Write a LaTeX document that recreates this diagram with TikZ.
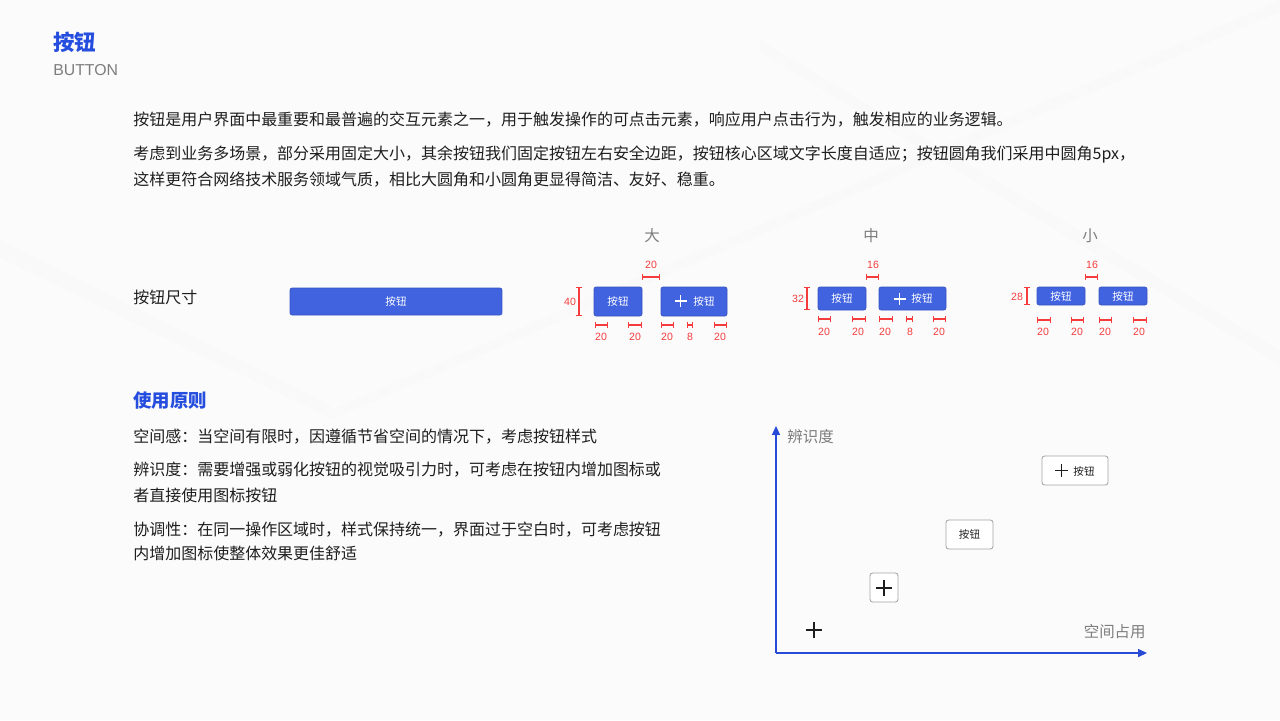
\documentclass[tikz,border=0pt]{standalone}
\usepackage{fontspec}
\setmainfont{Noto Sans CJK SC}
\newfontfamily\latinsans{Liberation Sans}
\usetikzlibrary{arrows.meta}
\definecolor{btnblue}{RGB}{65,99,224}
\definecolor{titleblue}{RGB}{38,78,222}
\definecolor{axisblue}{RGB}{40,75,215}
\definecolor{dimred}{RGB}{245,60,60}
\definecolor{txtdark}{RGB}{30,30,30}
\definecolor{txtgray}{RGB}{125,125,125}
\definecolor{ghostline}{RGB}{165,165,170}
\definecolor{bgpaper}{RGB}{251,251,252}
% plus glyph: x, y, half size, colour
\newcommand{\plusmark}[4]{\draw[#4, line width=1pt] (#1-#3,#2) -- (#1+#3,#2) (#1,#2-#3) -- (#1,#2+#3);}

\begin{document}
\begin{tikzpicture}[x=0.02cm, y=-0.02cm,
  body/.style={anchor=west, inner sep=0, text=txtdark, font=\fontsize{9.1}{12}\selectfont},
  heading/.style={anchor=west, inner sep=0, text=titleblue, font=\fontsize{10.5}{12}\selectfont\bfseries},
  sizelabel/.style={inner sep=0, text=txtgray, font=\fontsize{8.8}{10}\selectfont},
  btn/.style={draw=btnblue!85!black, fill=btnblue, rounded corners=1.2pt, line width=0.4pt,
    text=white, inner sep=0, font=\fontsize{6}{7}\selectfont},
  btntext/.style={inner sep=0, text=white, font=\fontsize{6}{7}\selectfont},
  ghost/.style={draw=ghostline, fill=white, rounded corners=1.5pt, line width=0.5pt,
    text=txtdark, inner sep=0, font=\fontsize{6}{7}\selectfont},
  dimh/.style={dimred, line width=0.6pt, {Bar[width=3.2pt]}-{Bar[width=3.2pt]}},
  dimv/.style={dimred, line width=0.6pt, {Bar[width=3.2pt]}-{Bar[width=3.2pt]}},
  dimnum/.style={inner sep=0, text=dimred, font=\latinsans\fontsize{6}{7}\selectfont},
  axis/.style={axisblue, line width=0.6pt, -{Triangle[length=5pt,width=4.5pt]}},
  axlabel/.style={inner sep=0, text=txtgray, font=\fontsize{8.8}{10}\selectfont}]
\useasboundingbox (0,0) rectangle (1280,720);
\fill[bgpaper] (0,0) rectangle (1280,720);
% faint backdrop streaks
\fill[black, opacity=0.008] (0,240) -- (330,405) -- (330,418) -- (0,258) -- cycle;
\fill[black, opacity=0.008] (330,410) -- (1280,0) -- (1280,12) -- (330,420) -- cycle;
\fill[black, opacity=0.007] (760,40) -- (1280,350) -- (1280,365) -- (760,52) -- cycle;

% header
\node[anchor=west, inner sep=0, text=titleblue, font=\fontsize{12.2}{14}\selectfont\bfseries] (title) at (53,42) {按钮};
\node[anchor=west, inner sep=0, text=txtgray, font=\latinsans\fontsize{9}{10}\selectfont] (subtitle) at (53,70) {BUTTON};

\node[body] (intro) at (133,120) {按钮是用户界面中最重要和最普遍的交互元素之一，用于触发操作的可点击元素，响应用户点击行为，触发相应的业务逻辑。};
\node[body] (introB) at (133,155) {考虑到业务多场景，部分采用固定大小，其余按钮我们固定按钮左右安全边距，按钮核心区域文字长度自适应；按钮圆角我们采用中圆角5px，};
\node[body] (introC) at (133,180) {这样更符合网络技术服务领域气质，相比大圆角和小圆角更显得简洁、友好、稳重。};

% sizes
\node[body] (sizehead) at (133,297) {按钮尺寸};
\node[btn, minimum width=4.24cm, minimum height=0.54cm] (wide) at (396,301.5) {按钮};

\node[sizelabel] (big) at (652,236) {大};
\node[sizelabel] (mid) at (871,236) {中};
\node[sizelabel] (small) at (1090,236) {小};

% large
\node[btn, minimum width=0.96cm, minimum height=0.58cm] (lgA) at (618,301.5) {按钮};
\node[btn, minimum width=1.32cm, minimum height=0.58cm] (lgB) at (694,301.5) {};
\plusmark{680.5}{301}{6}{white}
\node[btntext] (lgBt) at (704,301.5) {按钮};
\draw[dimv] (579,287) -- (579,316);
\node[dimnum] (lgH) at (570,301.5) {40};
\draw[dimh] (642,277) -- (660,277);
\node[dimnum] (lgGap) at (651,265) {20};
\foreach \a/\b in {595/608,628/642,661/674,687/693,714/727}
  \draw[dimh] (\a,325) -- (\b,325);
\foreach \xx/\t in {601/20,635/20,667/20,690/8,720/20}
  \node[dimnum] (lgn\xx) at (\xx,337) {\t};

% medium
\node[btn, minimum width=0.96cm, minimum height=0.46cm] (mdA) at (842,298.5) {按钮};
\node[btn, minimum width=1.34cm, minimum height=0.46cm] (mdB) at (912.5,298.5) {};
\plusmark{899.5}{299}{6}{white}
\node[btntext] (mdBt) at (922,298.5) {按钮};
\draw[dimv] (807,287) -- (807,310);
\node[dimnum] (mdH) at (798,299) {32};
\draw[dimh] (866,277) -- (879,277);
\node[dimnum] (mdGap) at (873,265) {16};
\foreach \a/\b in {818/831,852/866,879/893,906/913,933/946}
  \draw[dimh] (\a,319) -- (\b,319);
\foreach \xx/\t in {824/20,858/20,885/20,910/8,939/20}
  \node[dimnum] (mdn\xx) at (\xx,332) {\t};

% small
\node[btn, minimum width=0.96cm, minimum height=0.36cm] (smA) at (1061,296) {按钮};
\node[btn, minimum width=0.96cm, minimum height=0.36cm] (smB) at (1123,296) {按钮};
\draw[dimv] (1027,287) -- (1027,305);
\node[dimnum] (smH) at (1017,297) {28};
\draw[dimh] (1085,277) -- (1098,277);
\node[dimnum] (smGap) at (1092,265) {16};
\foreach \a/\b in {1037/1051,1071/1084,1099/1112,1133/1147}
  \draw[dimh] (\a,320) -- (\b,320);
\foreach \xx/\t in {1043/20,1077/20,1105/20,1139/20}
  \node[dimnum] (smn\xx) at (\xx,332) {\t};

% principles
\node[heading] (rulehead) at (133,401) {使用原则};
\node[body] (ruleA) at (133,437) {空间感：当空间有限时，因遵循节省空间的情况下，考虑按钮样式};
\node[body] (ruleB) at (133,470) {辨识度：需要增强或弱化按钮的视觉吸引力时，可考虑在按钮内增加图标或};
\node[body] (ruleBb) at (133,495) {者直接使用图标按钮};
\node[body] (ruleC) at (133,530) {协调性：在同一操作区域时，样式保持统一，界面过于空白时，可考虑按钮};
\node[body] (ruleCc) at (133,553) {内增加图标使整体效果更佳舒适};

% chart
\coordinate (org) at (776,653);
\coordinate (ytop) at (776,426);
\coordinate (xend) at (1147,653);
\draw[axis] (org) -- (ytop);
\draw[axis] (org) -- (xend);
\node[axlabel, anchor=west] (ylab) at (787,437) {辨识度};
\node[axlabel, anchor=east] (xlab) at (1146,632) {空间占用};

\node[ghost, minimum width=1.32cm, minimum height=0.58cm] (cbA) at (1075,470.5) {};
\plusmark{1061.5}{470.5}{6.5}{txtdark}
\node[inner sep=0, text=txtdark, font=\fontsize{6}{7}\selectfont] (cbAt) at (1084,471) {按钮};
\node[ghost, minimum width=0.94cm, minimum height=0.58cm] (cbB) at (969.5,534.5) {按钮};
\node[ghost, minimum width=0.56cm, minimum height=0.58cm] (cbC) at (884,587.5) {};
\plusmark{884}{588}{8}{txtdark}
\plusmark{814}{630}{8}{txtdark}
\end{tikzpicture}
\end{document}
